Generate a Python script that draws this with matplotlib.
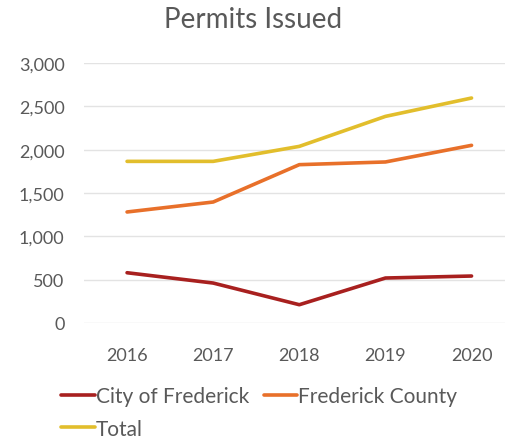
import matplotlib
matplotlib.use("Agg")
import matplotlib.pyplot as plt

years = ["2016", "2017", "2018", "2019", "2020"]
city = [580, 461, 211, 519, 542]
county = [1281, 1396, 1827, 1858, 2050]
total = [1865, 1865, 2038, 2384, 2596]

plt.rcParams["font.family"] = ["Lato", "DejaVu Sans"]
grey = "#595959"

fig = plt.figure(figsize=(5.06, 4.39), dpi=100)
ax = fig.add_axes([84 / 506, 1 - 324 / 439, 1 - 84 / 506, (324 - 64) / 439])

x = range(len(years))
l1, = ax.plot(x, city, color="#A8201F", lw=2.6, label="City of Frederick", solid_capstyle="round")
l2, = ax.plot(x, county, color="#E8702A", lw=2.6, label="Frederick County", solid_capstyle="round")
l3, = ax.plot(x, total, color="#E2BE2C", lw=2.6, label="Total", solid_capstyle="round")

ax.set_xlim(-0.5, 4.4)
ax.set_ylim(0, 3000)
ax.set_yticks(range(0, 3001, 500))
ax.set_yticklabels([f"{v:,}" for v in range(0, 3001, 500)])
ax.set_xticks(list(x))
ax.set_xticklabels(years)
ax.grid(axis="y", color="#e3e3e3", lw=1)
ax.set_axisbelow(True)
for s in ax.spines.values():
    s.set_visible(False)
ax.tick_params(length=0, labelsize=13, colors=grey)
ax.tick_params(axis="x", pad=17)
ax.tick_params(axis="y", pad=14)

fig.text(0.5, 0.955, "Permits Issued", ha="center", va="center", fontsize=20, color=grey)

# column-major fill: put Total under City so row 1 reads City, County
fig.legend([l1, l3, l2], ["City of Frederick", "Total", "Frederick County"],
           loc="upper left", bbox_to_anchor=(0.105, 0.137), ncol=2, frameon=False,
           fontsize=15, labelcolor=grey, handlelength=1.6, handletextpad=0.05,
           columnspacing=0.7, borderaxespad=0, labelspacing=0.6)

fig.savefig("out.png", dpi=100)
